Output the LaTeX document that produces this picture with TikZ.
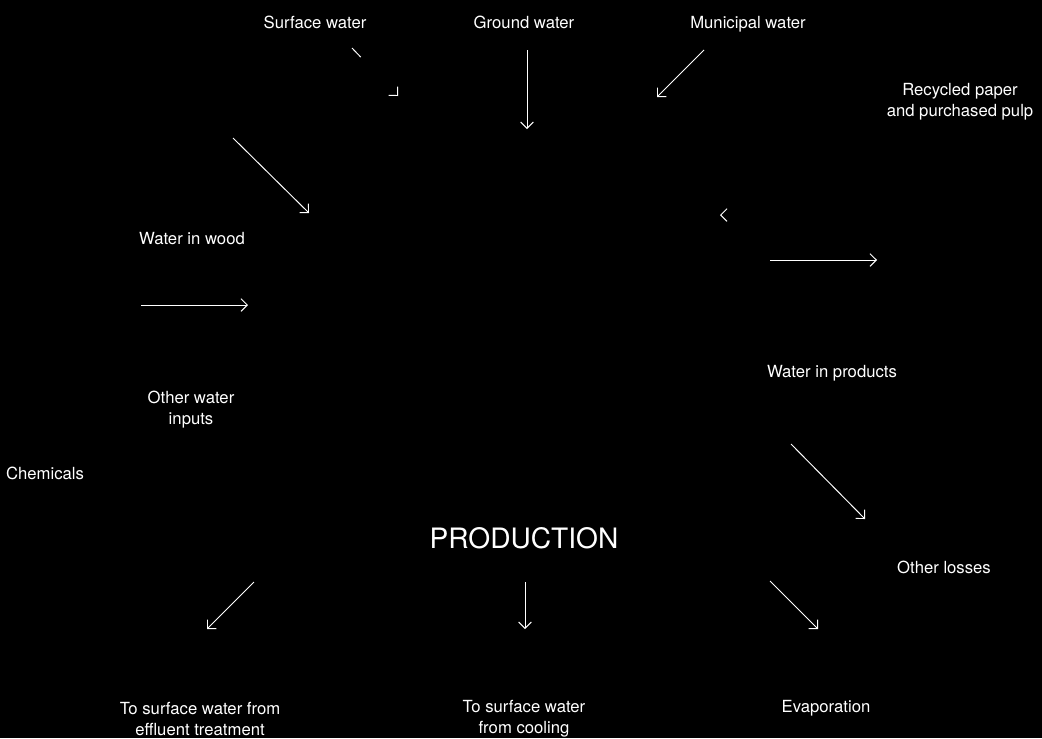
\documentclass[tikz,border=0pt]{standalone}
\usepackage{fontspec}
\setmainfont{TeX Gyre Heros}
\usetikzlibrary{arrows.meta,positioning}

\begin{document}
\begin{tikzpicture}[
        x=0.02cm, y=-0.02cm,
        txt/.style={text=white, align=center, inner sep=0pt, font=\fontsize{9.5}{11.9}\selectfont},
        big/.style={text=white, inner sep=0pt, font=\fontsize{16}{18}\selectfont},
        flow/.style={-{Straight Barb[length=3.6pt, width=7.2pt]}, line width=0.55pt, white!85}
    ]
        \fill[black] (0,0) rectangle (1042,738);
        % entradas
        \node (sw) [txt] at (315,22)  {Surface water};
        \node (gw) [txt] at (524,22)  {Ground water};
        \node (mw) [txt] at (748,24)  {Municipal water};
        \node (rp) [txt] at (960,102) {Recycled paper\\and purchased pulp};
        \node (ww) [txt] at (192,239) {Water in wood};
        \node (ow) [txt] at (191,410) {Other water\\inputs};
        \node (ch) [txt] at (45,473)  {Chemicals};
        % centro
        \node (pr) [big] at (524,538) {PRODUCTION};
        % salidas
        \node (wp) [txt] at (832,373) {Water in products};
        \node (ol) [txt] at (944,567) {Other losses};
        \node (ef) [txt] at (200,719) {To surface water from\\effluent treatment};
        \node (co) [txt] at (524,719) {To surface water\\from cooling};
        \node (ev) [txt] at (826,708) {Evaporation};
        % extremos de flechas
        \coordinate (sw1) at (352,48);  \coordinate (sw2) at (398,96);
        \coordinate (gw1) at (527,50);  \coordinate (gw2) at (527,129);
        \coordinate (mw1) at (704,50);  \coordinate (mw2) at (657,97);
        \coordinate (rp1) at (740,215); \coordinate (rp2) at (720,215);
        \coordinate (ww1) at (233,138); \coordinate (ww2) at (309,213);
        \coordinate (ow1) at (141,305); \coordinate (ow2) at (248,305);
        \coordinate (wp1) at (770,260); \coordinate (wp2) at (877,260);
        \coordinate (ol1) at (791,444); \coordinate (ol2) at (865,519);
        \coordinate (ef1) at (254,582); \coordinate (ef2) at (207,629);
        \coordinate (co1) at (525,582); \coordinate (co2) at (525,629);
        \coordinate (ev1) at (770,581); \coordinate (ev2) at (818,629);
        % flechas de entrada
        \draw[flow, dash pattern=on 7.2pt off 60pt] (sw1) -- (sw2);
        \draw[flow] (gw1) -- (gw2);
        \draw[flow] (mw1) -- (mw2);
        \draw[flow, dash pattern=on 0pt off 60pt] (rp1) -- (rp2);
        \draw[flow] (ww1) -- (ww2);
        \draw[flow] (ow1) -- (ow2);
        % flechas de salida
        \draw[flow] (wp1) -- (wp2);
        \draw[flow] (ol1) -- (ol2);
        \draw[flow] (ef1) -- (ef2);
        \draw[flow] (co1) -- (co2);
        \draw[flow] (ev1) -- (ev2);
    \end{tikzpicture}
\end{document}
